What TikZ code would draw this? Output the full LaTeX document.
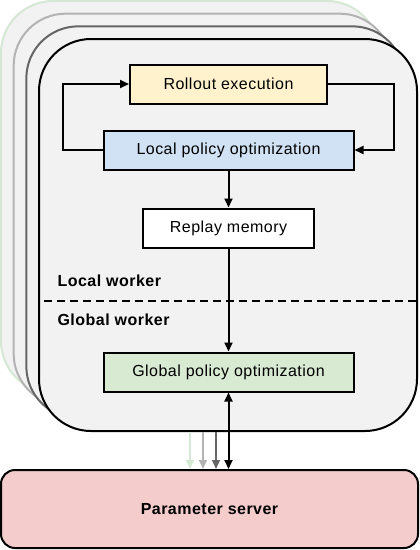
\documentclass[tikz,border=0pt]{standalone}
\usepackage{fontspec}
\setmainfont{Liberation Sans}[LetterSpace=3]
\usepackage{tikz}
\usetikzlibrary{positioning}
\usetikzlibrary{calc}
\usetikzlibrary{arrows.meta}
\definecolor{panelfill}{HTML}{F2F2F2}
\definecolor{backA}{HTML}{D5E8D4}
\definecolor{backB}{HTML}{B3B3B3}
\definecolor{backC}{HTML}{666666}
\definecolor{rolloutfill}{HTML}{FFF2CC}
\definecolor{localfill}{HTML}{D0E2F3}
\definecolor{globalfill}{HTML}{D9EAD3}
\definecolor{serverfill}{HTML}{F4CCCC}
\tikzstyle{arrow}=
[line width=2pt,->,>={Triangle[length=9pt,width=8pt]}]
\tikzstyle{panel}=
[rectangle,rounded corners=52pt,minimum width=378pt,minimum height=392pt,
inner sep=0pt,line width=2pt,fill=panelfill]
\tikzstyle{box}=
[rectangle,minimum height=39pt,inner sep=0pt,text centered,
draw=black,line width=2pt]

\begin{document}
\begin{tikzpicture}[x=1pt,y=-1pt,font=\fontsize{16}{19}\selectfont]
\useasboundingbox (0,0) rectangle (420,550);
% stacked workers
\foreach \i/\col in {3/backA,2/backB,1/backC}
\node (back\i) [panel,draw=\col] at ({228-12.67*\i},{235-12.67*\i}) {};
\node (front) [panel,draw=black] at (228,235) {};
% local worker
\node (rollout)
[box,
minimum width=197pt,
fill=rolloutfill]
at (228.5,84)
{Rollout execution};
\node (local)
[box,
minimum width=250pt,
fill=localfill,
below=25pt of rollout]
{Local policy optimization};
\node (replay)
[box,
minimum width=171pt,
fill=white,
below=37pt of local]
{Replay memory};
\draw[arrow](local.west)--++(-40,0)|-(rollout.west);
\draw[arrow](rollout.east)--++(66,0)|-(local.east);
\draw[arrow](local)--(replay);
% split
\node (lw) [anchor=west,font=\fontsize{16}{19}\selectfont\bfseries] at (54,281) {Local worker};
\node (gw) [anchor=west,font=\fontsize{16}{19}\selectfont\bfseries] at (54,320) {Global worker};
\draw[line width=2pt,dash pattern=on 8pt off 5pt,shorten <=6pt]
(front.west |- 0,301)--(front.east |- 0,301);
% global worker
\node (global)
[box,
minimum width=250pt,
fill=globalfill,
below=103pt of replay]
{Global policy optimization};
\draw[arrow](replay)--(global);
% parameter server
\node (server)
[rectangle,
rounded corners=14pt,
minimum width=417pt,
minimum height=78pt,
draw=black,
line width=2pt,
fill=serverfill,
font=\fontsize{16}{19}\selectfont\bfseries]
at (209.5,509)
{Parameter server};
\foreach \dx/\col in {-38/backA,-25/backB,-12/backC}{
\coordinate (top) at ($(front.south)+(\dx,0)$);
\draw[arrow,line width=1.5pt,draw=\col,fill=\col](top)--(top |- server.north);
}
\draw[arrow,<->](global.south)--(global.south |- server.north);
\end{tikzpicture}
\end{document}
